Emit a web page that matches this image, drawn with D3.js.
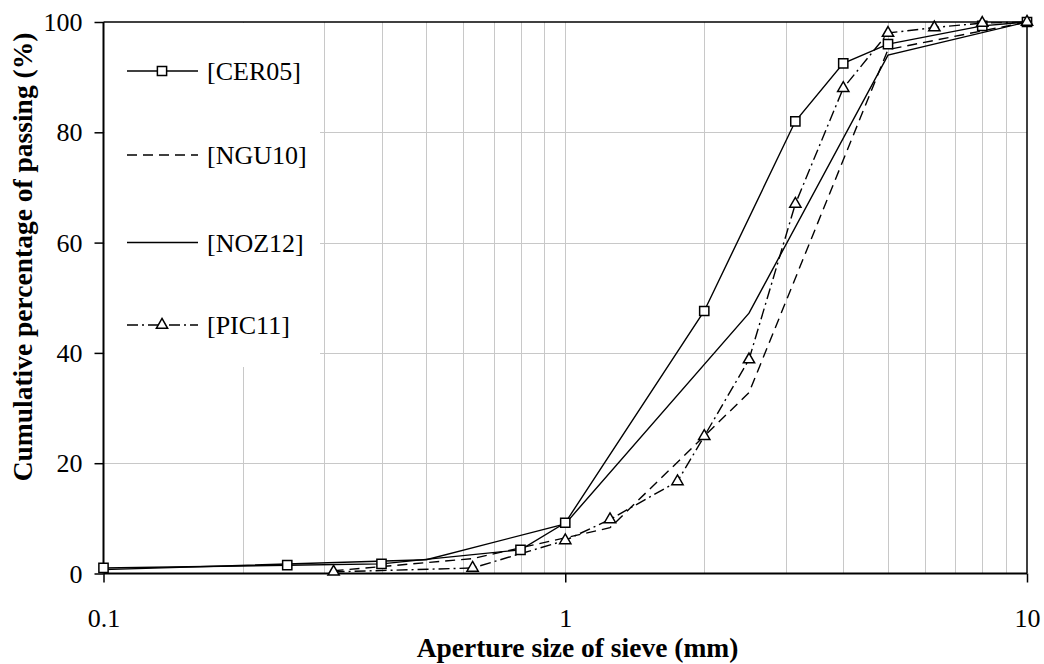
<!DOCTYPE html>
<html>
<head>
<meta charset="utf-8">
<script src="https://cdn.jsdelivr.net/npm/d3@7"></script>
<style>
  body { margin: 0; background: #fff; }
  svg { display: block; }
  text { font-family: "Liberation Serif", "Times New Roman", serif; fill: #000; }
</style>
</head>
<body>
<svg id="chart" width="1044" height="664"></svg>
<script>
// ---- data ----
const seriesNames = ["[CER05]", "[NGU10]", "[NOZ12]", "[PIC11]"];
const cer05 = [[0.1, 1.0], [0.25, 1.5], [0.4, 1.75], [0.8, 4.3], [1, 9.2], [2, 47.6], [3.15, 82], [4, 92.5], [5, 96], [8, 99.3], [10, 100]];
const ngu10 = [[0.315, 0.5], [0.63, 2.7], [1.25, 8.3], [2.5, 32.8], [5, 95], [10, 100]];
const noz12 = [[0.1, 0.7], [0.5, 2.5], [1, 9.0], [2.5, 47.2], [5, 94], [10, 100]];
const pic11 = [[0.315, 0.3], [0.63, 1.0], [1, 6.0], [1.25, 9.8], [1.75, 16.7], [2, 24.9], [2.5, 38.8], [3.15, 67], [4, 88], [5, 98], [6.3, 99], [8, 99.8], [10, 100]];
const xTickValues = [0.1, 1, 10];
const xTickLabels = ["0.1", "1", "10"];
const yTickValues = [0, 20, 40, 60, 80, 100];
const xTitle = "Aperture size of sieve (mm)";
const yTitle = "Cumulative percentage of passing (%)";

// ---- layout ----
const L = 103.5, R = 1027, T = 22, B = 573.5;
const svg = d3.select("#chart");
const x = d3.scaleLog().domain([0.1, 10]).range([L, R]);
const y = d3.scaleLinear().domain([0, 100]).range([B, T]);

// gridlines
const gridX = [];
[0.1, 1].forEach(d => { for (let k = 1; k <= 9; k++) gridX.push(d * k); });
const g = svg.append("g");
g.selectAll("line.vx").data(gridX.filter(v => v > 0.1 + 1e-9)).enter().append("line")
  .attr("x1", d => Math.round(x(d)) + 0.5).attr("x2", d => Math.round(x(d)) + 0.5)
  .attr("y1", T).attr("y2", B).attr("stroke", "#c8c8c8").attr("stroke-width", 1);
g.selectAll("line.hy").data(yTickValues.filter(v => v > 0 && v < 100)).enter().append("line")
  .attr("x1", L).attr("x2", R)
  .attr("y1", d => Math.round(y(d)) + 0.5).attr("y2", d => Math.round(y(d)) + 0.5)
  .attr("stroke", "#c8c8c8").attr("stroke-width", 1);

// legend box (covers grid)
svg.append("rect").attr("x", L + 1).attr("y", T + 1).attr("width", 320 - L - 1).attr("height", 367 - T - 1).attr("fill", "#fff");

// frame
svg.append("line").attr("x1", L).attr("x2", R).attr("y1", T).attr("y2", T).attr("stroke", "#000").attr("stroke-width", 1.5);
svg.append("line").attr("x1", R).attr("x2", R).attr("y1", T).attr("y2", B).attr("stroke", "#000").attr("stroke-width", 1.5);

// axes
const xAxis = d3.axisBottom(x).tickValues(xTickValues).tickFormat((d, i) => xTickLabels[i]).tickSize(9).tickPadding(12);
const yAxis = d3.axisLeft(y).tickValues(yTickValues).tickFormat(d3.format("d")).tickSize(9).tickPadding(12);
const gx = svg.append("g").attr("transform", `translate(0,${B})`).call(xAxis);
const gy = svg.append("g").attr("transform", `translate(${L},0)`).call(yAxis);
[gx, gy].forEach(a => {
  a.select(".domain").attr("stroke", "#000").attr("stroke-width", 2);
  a.selectAll(".tick line").attr("stroke", "#000").attr("stroke-width", 1.5);
  a.selectAll(".tick text").style("font-family", '"Liberation Serif", serif').style("font-size", "26px").attr("fill", "#000");
});
gx.select(".domain").attr("d", `M${L},0H${R}`);
gy.select(".domain").attr("d", `M0,${B}V${T}`);
gx.selectAll(".tick text").attr("dy", null).attr("y", 53);
gy.selectAll(".tick text").attr("x", -21).attr("dy", "0.33em");

// titles
svg.append("text").attr("x", 577.5).attr("y", 657).attr("text-anchor", "middle")
  .style("font-size", "27.5px").style("font-weight", "bold").text(xTitle);
svg.append("text").attr("transform", "translate(32,257) rotate(-90)").attr("text-anchor", "middle")
  .style("font-size", "27.5px").style("font-weight", "bold").text(yTitle);

// series
const styles = [
  { data: cer05, dash: null, marker: "square" },
  { data: ngu10, dash: "10,6", marker: null },
  { data: noz12, dash: null, marker: null },
  { data: pic11, dash: "11,4,2,4", marker: "triangle" }
];
const line = d3.line().x(d => x(d[0])).y(d => y(d[1]));
const sq = d3.symbol().type(d3.symbolSquare).size(85);
const tri = d3.symbol().type(d3.symbolTriangle).size(55);

styles.forEach(s => {
  svg.append("path").datum(s.data).attr("d", line).attr("fill", "none")
    .attr("stroke", "#000").attr("stroke-width", 1.4).attr("stroke-dasharray", s.dash);
});
styles.forEach(s => {
  if (!s.marker) return;
  svg.append("g").selectAll("path").data(s.data).enter().append("path")
    .attr("d", s.marker === "square" ? sq : tri)
    .attr("transform", d => `translate(${x(d[0])},${y(d[1])})`)
    .attr("fill", "#fff").attr("stroke", "#000").attr("stroke-width", 1.5);
});

// legend
const legY = [71, 155, 242.5, 325];
const leg = svg.append("g");
styles.forEach((s, i) => {
  leg.append("line").attr("x1", 127).attr("x2", 198).attr("y1", legY[i]).attr("y2", legY[i])
    .attr("stroke", "#000").attr("stroke-width", 1.5).attr("stroke-dasharray", s.dash);
  if (s.marker) {
    leg.append("path").attr("d", s.marker === "square" ? sq : tri)
      .attr("transform", `translate(162,${legY[i]})`)
      .attr("fill", "#fff").attr("stroke", "#000").attr("stroke-width", 1.5);
  }
  leg.append("text").attr("x", 207).attr("y", legY[i] + 9).style("font-size", "26px").text(seriesNames[i]);
});
</script>
</body>
</html>
